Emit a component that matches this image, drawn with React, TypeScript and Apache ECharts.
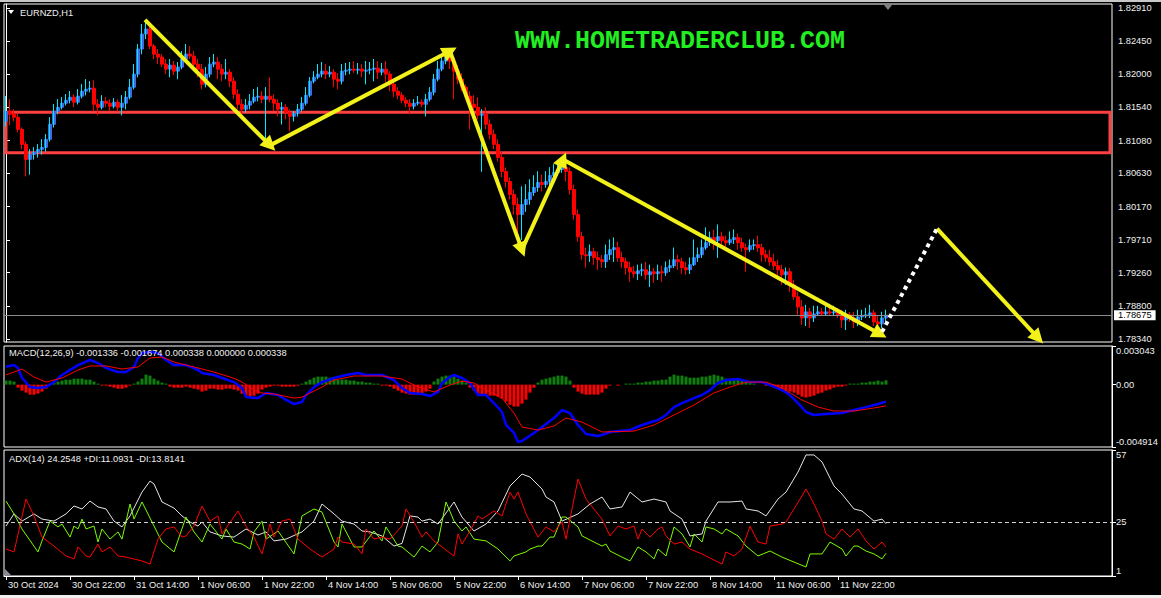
import { useEffect, useRef } from "react";
import * as echarts from "echarts";

const FONT = '"Liberation Sans", Arial, sans-serif';
const FS = 9.3;

// ---------- price data (EURNZD H1) ----------
const firstOpen = 1.81348;
const closes = [
1.81486,1.81445,1.81403,1.81237,1.81030,1.80822,1.80891,1.80919,1.80961,1.80988,
1.81099,1.81306,1.81486,1.81541,1.81597,1.81638,1.81680,1.81611,1.81694,1.81763,
1.81790,1.81804,1.81583,1.81541,1.81624,1.81597,1.81555,1.81611,1.81541,1.81597,
1.81680,1.81818,1.81998,1.82344,1.82551,1.82620,1.82385,1.82274,1.82233,1.82136,
1.82067,1.82122,1.82039,1.82095,1.82205,1.82274,1.82247,1.82136,1.82067,1.81859,
1.81998,1.82136,1.82164,1.82067,1.81998,1.82025,1.81901,1.81721,1.81583,1.81514,
1.81569,1.81624,1.81680,1.81694,1.81652,1.81694,1.81652,1.81597,1.81514,1.81541,
1.81472,1.81417,1.81458,1.81514,1.81597,1.81707,1.81901,1.81956,1.81998,1.82039,
1.81998,1.82025,1.81929,1.81901,1.82039,1.82053,1.82067,1.82053,1.82067,1.82039,
1.82053,1.82067,1.82081,1.82025,1.82067,1.81998,1.81859,1.81763,1.81707,1.81638,
1.81597,1.81555,1.81597,1.81611,1.81583,1.81652,1.81749,1.81929,1.82067,1.82178,
1.82247,1.82178,1.82039,1.81929,1.81818,1.81694,1.81583,1.81541,1.81431,1.81445,
1.81306,1.81168,1.81030,1.80850,1.80656,1.80518,1.80338,1.80200,1.80062,1.80200,
1.80269,1.80366,1.80435,1.80504,1.80476,1.80518,1.80601,1.80642,1.80684,1.80712,
1.80656,1.80407,1.80062,1.79757,1.79508,1.79495,1.79550,1.79467,1.79439,1.79412,
1.79508,1.79578,1.79605,1.79467,1.79412,1.79329,1.79273,1.79246,1.79287,1.79301,
1.79232,1.79273,1.79246,1.79273,1.79259,1.79329,1.79356,1.79439,1.79412,1.79329,
1.79301,1.79370,1.79467,1.79508,1.79605,1.79674,1.79744,1.79702,1.79757,1.79702,
1.79674,1.79716,1.79744,1.79674,1.79605,1.79578,1.79633,1.79647,1.79605,1.79508,
1.79467,1.79412,1.79356,1.79301,1.79232,1.79273,1.79093,1.78928,1.78789,1.78637,
1.78720,1.78637,1.78692,1.78720,1.78692,1.78720,1.78706,1.78720,1.78679,1.78609,
1.78679,1.78637,1.78582,1.78651,1.78665,1.78679,1.78706,1.78582,1.78554,1.78637,
1.78675
];
const highs = [
1.81694,1.81652,1.81514,1.81458,1.81265,1.81071,1.80961,1.80988,1.81030,1.81099,
1.81168,1.81403,1.81583,1.81652,1.81680,1.81721,1.81763,1.81721,1.81790,1.81859,
1.81929,1.81901,1.81915,1.81652,1.81707,1.81680,1.81652,1.81666,1.81652,1.81707,
1.81763,1.81929,1.82136,1.82413,1.82689,1.82717,1.82648,1.82413,1.82344,1.82274,
1.82205,1.82205,1.82178,1.82164,1.82316,1.82413,1.82385,1.82316,1.82205,1.82136,
1.82095,1.82233,1.82274,1.82233,1.82136,1.82205,1.82067,1.81956,1.81790,1.81652,
1.81652,1.81721,1.81790,1.81818,1.81763,1.81818,1.81956,1.81721,1.81652,1.81611,
1.81583,1.81514,1.81486,1.81583,1.81680,1.81818,1.81956,1.82039,1.82136,1.82164,
1.82136,1.82108,1.82067,1.82012,1.82136,1.82150,1.82164,1.82178,1.82150,1.82136,
1.82178,1.82164,1.82205,1.82178,1.82150,1.82178,1.82039,1.81929,1.81818,1.81749,
1.81680,1.81652,1.81652,1.81694,1.81652,1.81721,1.81818,1.81998,1.82178,1.82274,
1.82316,1.82302,1.82233,1.82122,1.82012,1.81859,1.81763,1.81707,1.81680,1.81514,
1.81541,1.81375,1.81237,1.81099,1.80933,1.80712,1.80573,1.80407,1.80297,1.80449,
1.80476,1.80546,1.80601,1.80656,1.80615,1.80656,1.80712,1.80753,1.80781,1.80822,
1.80795,1.80712,1.80476,1.80131,1.79826,1.79605,1.79647,1.79605,1.79550,1.79508,
1.79647,1.79716,1.79744,1.79688,1.79550,1.79467,1.79412,1.79356,1.79370,1.79384,
1.79412,1.79370,1.79329,1.79370,1.79356,1.79412,1.79439,1.79605,1.79508,1.79467,
1.79412,1.79467,1.79716,1.79605,1.79716,1.79882,1.79826,1.79854,1.79923,1.79826,
1.79771,1.79826,1.79854,1.79799,1.79744,1.79661,1.79716,1.79716,1.79771,1.79661,
1.79578,1.79578,1.79522,1.79439,1.79370,1.79329,1.79329,1.79163,1.78997,1.78886,
1.78817,1.78775,1.78803,1.78803,1.78775,1.78817,1.78831,1.78803,1.78775,1.78748,
1.78748,1.78720,1.78720,1.78748,1.78748,1.78775,1.78817,1.78748,1.78679,1.78720,
1.78748
];
const lows = [
1.81279,1.81292,1.81348,1.81196,1.80961,1.80587,1.80615,1.80822,1.80850,1.80891,
1.80933,1.81071,1.81265,1.81445,1.81514,1.81569,1.81597,1.81541,1.81583,1.81666,
1.81707,1.81749,1.81486,1.81431,1.81514,1.81541,1.81486,1.81528,1.81486,1.81431,
1.81514,1.81652,1.81790,1.81956,1.82274,1.82482,1.82344,1.82205,1.82136,1.82095,
1.81998,1.81956,1.81984,1.81929,1.82067,1.82178,1.82205,1.82067,1.81956,1.81790,
1.81818,1.81956,1.82095,1.81929,1.81901,1.81929,1.81818,1.81652,1.81514,1.81403,
1.81472,1.81514,1.81597,1.81624,1.81597,1.81002,1.81611,1.81486,1.81417,1.81306,
1.81375,1.81209,1.81348,1.81417,1.81486,1.81569,1.81680,1.81873,1.81929,1.81956,
1.81929,1.81956,1.81818,1.81790,1.81859,1.81984,1.81998,1.82012,1.81998,1.81956,
1.81859,1.81998,1.81901,1.81929,1.81984,1.81887,1.81763,1.81680,1.81652,1.81597,
1.81541,1.81445,1.81514,1.81569,1.81541,1.81417,1.81624,1.81707,1.81901,1.82039,
1.82136,1.82067,1.81652,1.81859,1.81763,1.81652,1.81237,1.81486,1.81375,1.80656,
1.81237,1.81099,1.80961,1.80795,1.80573,1.80435,1.80269,1.80062,1.79647,1.79716,
1.80103,1.80200,1.80324,1.80380,1.80380,1.80435,1.80407,1.80546,1.80601,1.80642,
1.80518,1.80338,1.79992,1.79688,1.79439,1.79329,1.79412,1.79370,1.79301,1.79329,
1.79329,1.79439,1.79412,1.79412,1.79329,1.79232,1.79135,1.79190,1.79163,1.79218,
1.79163,1.79066,1.79121,1.79163,1.79135,1.79218,1.79273,1.79329,1.79301,1.79246,
1.79232,1.79246,1.79356,1.79412,1.79467,1.79578,1.79633,1.79578,1.79467,1.79647,
1.79619,1.79647,1.79661,1.79578,1.79550,1.79273,1.79550,1.79578,1.79550,1.79412,
1.79412,1.79356,1.79301,1.79190,1.79093,1.79093,1.78997,1.78886,1.78679,1.78540,
1.78526,1.78499,1.78582,1.78665,1.78665,1.78679,1.78665,1.78665,1.78637,1.78499,
1.78471,1.78582,1.78499,1.78526,1.78609,1.78637,1.78637,1.78526,1.78499,1.78499,
1.78582
];
const futureBars = 56;

const tickLabels = [
  "30 Oct 2024", "30 Oct 22:00", "31 Oct 14:00", "1 Nov 06:00", "1 Nov 22:00",
  "4 Nov 14:00", "5 Nov 06:00", "5 Nov 22:00", "6 Nov 14:00", "7 Nov 06:00",
  "7 Nov 22:00", "8 Nov 14:00", "11 Nov 06:00", "11 Nov 22:00",
];
const priceTicks = [1.8291, 1.8245, 1.82, 1.8154, 1.8108, 1.8063, 1.8017, 1.7971, 1.7926, 1.788, 1.7834];
const priceMin = 1.78305;
const priceMax = 1.82965;
const lastPrice = 1.78675;
const zoneTop = 1.81472;
const zoneBottom = 1.80915;

// hand-drawn annotations: [bar index, price]
const zigzag = [[34.75, 1.82745], [66, 1.81016], [111, 1.82316], [129, 1.79578], [139.25, 1.80822], [218.5, 1.78416]];
const projectionDotted = [[219, 1.78444], [232.75, 1.79868]];
const projectionArrow = [[232.75, 1.79868], [258, 1.78361]];

// ---------- MACD(12,26,9) ----------
const macdAxis = [0.003043, 0, -0.004914];
const macdAxisLabels = ["0.003043", "0.00", "-0.004914"];
const macdHist = [
0.00032,0.00032,0.00024,
-0.00024,-0.00047,-0.00063,-0.00079,-0.00079,-0.00071,-0.00055,-0.00032,
0.00008,0.00016,0.00024,0.00032,0.00039,0.00039,0.00047,0.00047,0.00047,0.00039,0.00039,0.00024,0.00008,
-0.00008,-0.00008,-0.00016,-0.00024,-0.00032,-0.00032,-0.00024,-0.00008,
0.00008,0.00024,0.00047,0.00079,0.00071,0.00047,0.00032,0.00016,0.00008,
-0.00016,-0.00024,-0.00024,-0.00024,-0.00016,-0.00024,-0.00032,-0.00039,-0.00055,-0.00047,-0.00032,-0.00032,-0.00039,-0.00039,-0.00032,-0.00032,-0.00039,
-0.00047,-0.00071,-0.00087,-0.00095,-0.00087,-0.00071,
-0.00039,-0.00024,-0.00016,-0.00008,-0.00008,-0.00016,-0.00016,-0.00016,-0.00016,-0.00008,
0.00008,0.00024,0.00039,0.00055,0.00063,0.00063,0.00063,0.00055,0.00047,0.00039,0.00039,0.00039,0.00032,0.00032,0.00024,0.00024,0.00016,0.00016,0.00008,0.00008,
-0.00008,-0.00008,-0.00016,-0.00032,-0.00047,-0.00063,-0.00071,-0.00079,-0.00079,-0.00079,-0.00071,-0.00055,-0.00032,
0.00024,0.00047,0.00063,0.00071,0.00071,0.00063,0.00047,0.00032,0.00016,
-0.00024,-0.00047,-0.00071,-0.00079,-0.00079,-0.00087,-0.00087,-0.00095,-0.00110,-0.00134,-0.00158,-0.00173,-0.00173,-0.00150,-0.00118,-0.00063,-0.00024,
0.00016,0.00039,0.00047,0.00055,0.00063,0.00071,0.00071,0.00063,0.00032,
-0.00024,-0.00055,-0.00071,-0.00079,-0.00079,-0.00079,-0.00079,-0.00063,-0.00032,
-0.00008,0,-0.00008,0,0.00008,0.00008,
0.00008,0.00016,0.00016,0.00024,0.00024,0.00032,0.00032,0.00039,0.00039,0.00063,0.00079,0.00071,0.00071,0.00063,0.00055,0.00055,0.00055,0.00063,0.00063,0.00071,0.00079,0.00071,0.00063,0.00047,0.00047,0.00039,0.00039,0.00032,0.00024,0.00016,
0.00008,0,0,-0.00008,-0.00008,
-0.00024,-0.00032,-0.00039,-0.00047,-0.00055,-0.00063,-0.00079,-0.00095,-0.00102,-0.00095,-0.00087,-0.00071,-0.00063,-0.00047,-0.00039,-0.00024,-0.00016,-0.00016,-0.00008,
0.00008,0.00008,0.00008,0.00016,0.00016,0.00024,0.00024,0.00032,0.00024,0.000338
];
const macdLine = [[0,0.00141],[2,0.00154],[3,0.00131],[4,0.00052],[6,-0.00019],[8,-0.00027],[10,-0.00019],[12,0.0002],[14,0.00076],[18,0.00154],[21,0.00194],[23,0.0017],[25,0.00131],[28,0.00099],[30,0.00099],[32,0.00139],[33,0.0021],[34,0.00249],[36,0.00257],[38,0.00249],[40,0.00194],[42,0.00154],[45,0.00154],[48,0.00115],[49,0.00091],[52,0.00076],[54,0.00052],[57,0.0002],[59,-0.00027],[60,-0.00098],[63,-0.00106],[65,-0.00066],[68,-0.00082],[70,-0.00121],[72,-0.00153],[74,-0.00137],[75,-0.00082],[77,-0.00019],[79,0.0002],[82,0.00052],[85,0.00076],[88,0.00091],[90,0.00076],[94,0.00076],[97,0.00036],[99,-0.00027],[101,-0.00066],[104,-0.00074],[106,-0.0009],[108,-0.00058],[109,0.00013],[111,0.0006],[112,0.00076],[114,0.00052],[116,0.00013],[118,-0.00082],[120,-0.00082],[122,-0.00145],[124,-0.00216],[125,-0.00318],[127,-0.00381],[128,-0.00452],[129,-0.00444],[132,-0.00381],[134,-0.00334],[137,-0.00263],[139,-0.002],[141,-0.00224],[143,-0.00318],[145,-0.00389],[148,-0.00405],[149,-0.00397],[151,-0.00373],[156,-0.00358],[159,-0.00318],[163,-0.00279],[165,-0.00239],[167,-0.00177],[169,-0.00145],[172,-0.00106],[174,-0.00082],[176,-0.00043],[178,0.00013],[180,0.00036],[183,0.00044],[186,0.0002],[189,0.0002],[191,-0.00003],[194,-0.00043],[196,-0.00082],[198,-0.00145],[200,-0.00216],[202,-0.00239],[205,-0.00232],[209,-0.00224],[212,-0.002],[215,-0.00177],[218,-0.00153],[220,-0.001336]];
const signalLine = [[0,0.00076],[4,0.00123],[7,0.0006],[10,0.0002],[14,0.00052],[18,0.00115],[21,0.00147],[25,0.00147],[29,0.00123],[33,0.00139],[36,0.0021],[39,0.00217],[42,0.00178],[47,0.00139],[52,0.00099],[57,0.0005],[59,0.0002],[60,0],[62,-0.0004],[64,-0.00066],[67,-0.00074],[72,-0.00106],[74,-0.00098],[79,-0.00019],[82,0.00036],[87,0.00068],[94,0.00068],[99,0.00044],[103,-0.00019],[107,-0.00058],[111,-0.00003],[114,0.00028],[117,0.00013],[120,-0.00043],[124,-0.00106],[127,-0.00224],[129,-0.00334],[133,-0.00358],[137,-0.00326],[140,-0.00263],[144,-0.00295],[149,-0.00373],[157,-0.00366],[162,-0.00318],[167,-0.00239],[172,-0.00161],[177,-0.00066],[181,-0.00019],[185,0.0002],[190,0.0002],[194,-0.00027],[199,-0.00121],[203,-0.00177],[207,-0.00208],[212,-0.00208],[217,-0.00184],[220,-0.001674]];

// ---------- ADX(14) ----------
const adxAxis = [57, 25, 1];
const adxLevel = 25;
const adxLine = [[0,23.2],[2,28.6],[4,25.4],[7,28.6],[9,26.3],[12,25.4],[15,28.6],[17,32.1],[19,30.8],[21,34.3],[23,31.7],[25,30.8],[27,25.4],[29,22.8],[31,27.7],[34,38.3],[36,43.2],[37,41.9],[39,33.9],[42,31.2],[44,27.7],[46,25],[48,23.2],[49,25],[51,20.6],[54,18.8],[57,18.3],[60,21.9],[63,19.2],[65,20.6],[67,16.6],[70,17.4],[74,20.6],[77,25.4],[79,33],[82,28.6],[84,25.4],[87,24.1],[89,21],[91,20.6],[94,18.8],[97,14.3],[99,15.5],[101,27.7],[103,27.2],[104,25.4],[106,26.3],[108,24.1],[112,33.9],[114,27.2],[117,21],[120,24.1],[123,29.9],[126,41],[129,46.3],[131,45],[134,39.7],[135,36.1],[137,33.9],[139,25.4],[143,28.6],[146,33],[149,36.1],[151,30.8],[154,31.7],[156,38.3],[159,33.9],[162,35.2],[165,33.9],[166,29.9],[169,26.3],[171,18.8],[174,19.7],[175,25.4],[178,33.9],[181,33.9],[184,34.3],[185,30.8],[188,29.9],[190,27.7],[193,35.2],[195,38.3],[198,47.2],[200,54.8],[202,54.8],[204,51.7],[207,41],[209,37.4],[212,30.8],[214,29.9],[217,25.4],[219,26.3],[220,24.2548]];
const plusDI = [[0,34.3],[2,28.6],[4,21.9],[8,11.7],[9,16.6],[11,25.4],[13,22.8],[14,24.1],[16,18.3],[17,23.2],[18,21.9],[19,26.3],[20,21.9],[22,23.2],[23,16.1],[24,21.9],[26,17.4],[28,20.6],[29,17.4],[31,33],[32,26.3],[34,33.9],[37,23.2],[39,16.1],[42,11.7],[45,27.2],[47,20.6],[49,16.1],[51,24.1],[54,17.4],[55,21.9],[57,16.1],[59,15.2],[61,13],[62,20.6],[64,25.4],[65,17.4],[68,21],[72,10.8],[74,27.7],[77,30.8],[79,29.4],[82,16.1],[83,13.9],[84,24.1],[87,13.9],[89,13.9],[92,21],[94,16.6],[95,22.8],[98,14.3],[99,13.9],[102,9.4],[104,14.3],[106,11.7],[108,16.1],[110,33.9],[112,25.4],[114,21],[115,22.8],[117,17.4],[120,16.6],[123,13],[126,7.7],[127,9.9],[130,11.7],[131,13],[133,14.3],[134,14.3],[136,18.3],[137,18.3],[139,27.2],[140,27.2],[143,22.8],[144,18.8],[147,16.1],[149,14.3],[150,15.2],[151,12.1],[154,9.4],[156,7.7],[158,13.9],[160,11.7],[162,8.6],[163,13],[165,9.9],[167,22.8],[169,19.7],[171,13.9],[172,19.7],[174,16.1],[175,22.8],[177,21.9],[179,19.7],[180,21.9],[183,18.8],[185,14.3],[188,9.9],[191,12.1],[194,9.4],[197,7.2],[200,5],[201,10.8],[204,10.8],[206,16.1],[209,13],[210,9.9],[212,14.3],[213,14.3],[215,12.1],[217,10.8],[219,8.6],[220,11.0931]];
const minusDI = [[0,13],[2,11.7],[5,35.2],[7,27.7],[9,18.3],[12,14.3],[15,9.9],[17,8.6],[18,13.9],[20,9.9],[21,9.4],[23,15.2],[24,11.7],[26,13.9],[28,9.9],[30,9.4],[34,7.7],[36,6.3],[38,17.4],[40,21.9],[42,22.8],[44,18.3],[45,18.8],[47,23.2],[49,32.1],[51,25.4],[53,27.7],[54,19.7],[58,29.9],[60,23.2],[62,18.3],[64,10.8],[66,24.1],[67,18.3],[69,25.4],[71,26.3],[73,17.4],[76,13],[79,9.4],[82,13],[83,18.3],[84,16.1],[87,15.2],[89,10.8],[90,21.9],[92,17.4],[94,18.3],[96,17.4],[99,23.2],[100,30.8],[102,25],[104,18.3],[105,20.6],[107,16.6],[109,13.9],[112,9.9],[113,19.7],[114,15.2],[116,21],[118,27.7],[119,26.3],[122,29.9],[124,27.7],[126,38.3],[127,35.2],[128,38.3],[130,28.6],[133,18.3],[135,22.8],[137,20.6],[139,25],[140,17.4],[143,44.1],[145,35.2],[149,26.3],[151,18.8],[153,23.2],[155,21.9],[157,23.2],[158,17.4],[159,21.9],[161,18.3],[163,21.9],[164,22.8],[165,18.8],[167,15.2],[169,16.1],[171,13],[174,10.8],[179,6.3],[180,11.7],[182,9.9],[184,13],[186,23.2],[188,16.1],[190,15.2],[191,23.2],[194,24.1],[195,25],[197,30.8],[199,36.6],[200,39.7],[202,33],[204,25.4],[205,19.7],[207,17.4],[209,21.9],[211,18.3],[213,21.9],[215,16.6],[217,13],[219,16.1],[220,13.8141]];

export default function App() {
  const ref = useRef<HTMLDivElement>(null);

  useEffect(() => {
    const el = ref.current!;
    const chart = echarts.init(el, null, { renderer: "svg" });
    const total = closes.length + futureBars;
    const cats = Array.from({ length: total }, (_, i) => String(i));
    const opens = closes.map((_, i) => (i === 0 ? firstOpen : closes[i - 1]));
    const candles = closes.map((c, i) => [opens[i], c, lows[i], highs[i]]);
    // bodies only (no wicks): the wide blue/red blocks
    const bodies = closes.map((c, i) => [opens[i], c, Math.min(opens[i], c), Math.max(opens[i], c)]);
    // bullish bars drawn as thin cyan candles on top
    const bullThin = closes.map((c, i) => (c > opens[i] ? candles[i] : "-"));
    const showTick = (i: number) => i % 16 === 0 && i < closes.length;

    const gridBase = { left: 4, width: 1108, show: true, borderColor: "#ffffff", borderWidth: 1, backgroundColor: "transparent" };
    const textStyle = { color: "#f0f0f0", fontSize: FS, fontFamily: FONT };

    const pairs = (pts: number[][]) =>
      pts.slice(0, -1).map((p, k) => ({ coords: [p, pts[k + 1]] }));

    const edgeRich = {
      t: { padding: [10, 0, 0, 0], color: "#f0f0f0", fontSize: FS, fontFamily: FONT },
      b: { padding: [0, 0, 10, 0], color: "#f0f0f0", fontSize: FS, fontFamily: FONT },
      m: { color: "#f0f0f0", fontSize: FS, fontFamily: FONT },
    };
    const edgeFormatter = (vals: number[], labels: string[]) => (v: number) => {
      let k = 0;
      for (let j = 0; j < vals.length; j++) if (Math.abs(vals[j] - v) < 1e-9) k = j;
      const tag = k === 0 ? "t" : k === vals.length - 1 ? "b" : "m";
      return `{${tag}|${labels[k]}}`;
    };

    const option: any = {
      animation: false,
      backgroundColor: "#000000",
      textStyle: { fontFamily: FONT },
      grid: [
        { ...gridBase, top: 4, height: 338 },
        { ...gridBase, top: 346, height: 101 },
        { ...gridBase, top: 450, height: 126 },
      ],
      xAxis: [
        { type: "category", gridIndex: 0, data: cats, show: false },
        { type: "category", gridIndex: 1, data: cats, show: false },
        {
          type: "category", gridIndex: 2, data: cats,
          axisLine: { show: true, lineStyle: { color: "#ffffff" } },
          axisTick: { show: true, interval: (i: number) => showTick(i), alignWithLabel: true, length: 4, lineStyle: { color: "#ffffff" } },
          axisLabel: {
            interval: (i: number) => showTick(i),
            formatter: (_v: string, i: number) => (showTick(i) ? tickLabels[i / 16] : ""),
            align: "left", margin: 4, padding: [0, 0, 0, 2], ...textStyle,
          },
        },
        { type: "value", gridIndex: 0, min: -0.5, max: total - 0.5, show: false },
      ],
      yAxis: [
        {
          type: "value", gridIndex: 0, position: "right", min: priceMin, max: priceMax,
          splitLine: { show: false },
          axisLine: { show: true, lineStyle: { color: "#ffffff" } },
          axisTick: { show: true, customValues: priceTicks, length: 4, lineStyle: { color: "#ffffff" } },
          axisLabel: { customValues: priceTicks, formatter: (v: number) => v.toFixed(5), margin: 6, ...textStyle },
        },
        {
          type: "value", gridIndex: 1, position: "right", min: macdAxis[2], max: macdAxis[0],
          splitLine: { show: false },
          axisLine: { show: true, lineStyle: { color: "#ffffff" } },
          axisTick: { show: true, customValues: macdAxis, length: 4, lineStyle: { color: "#ffffff" } },
          axisLabel: { customValues: macdAxis, formatter: edgeFormatter(macdAxis, macdAxisLabels), rich: edgeRich, margin: 4, ...textStyle },
        },
        {
          type: "value", gridIndex: 2, position: "right", min: adxAxis[2], max: adxAxis[0],
          splitLine: { show: false },
          axisLine: { show: true, lineStyle: { color: "#ffffff" } },
          axisTick: { show: true, customValues: adxAxis, length: 4, lineStyle: { color: "#ffffff" } },
          axisLabel: { customValues: adxAxis, formatter: edgeFormatter(adxAxis, adxAxis.map(String)), rich: edgeRich, margin: 4, ...textStyle },
        },
      ],
      series: [
        // zone rectangle + last-price line (carried by an invisible close line)
        {
          type: "line", xAxisIndex: 0, yAxisIndex: 0, data: closes, showSymbol: false, silent: true,
          lineStyle: { opacity: 0 }, z: 1,
          markLine: {
            silent: true, symbol: "none", precision: 5,
            data: [{ yAxis: lastPrice }],
            lineStyle: { color: "#8c8c8c", width: 1, type: "solid" },
            label: {
              show: true, position: "end", distance: 2, formatter: lastPrice.toFixed(5),
              backgroundColor: "#ffffff", color: "#000000", padding: [1, 4, 0, 4], fontSize: FS, fontFamily: FONT,
            },
          },
          markArea: {
            silent: true,
            itemStyle: { color: "rgba(0,0,0,0)", borderColor: "#ff4040", borderWidth: 3 },
            data: [[{ xAxis: 0, yAxis: zoneTop }, { xAxis: total - 1, yAxis: zoneBottom }]],
          },
        },
        {
          type: "candlestick", xAxisIndex: 0, yAxisIndex: 0, data: candles, barWidth: 1,
          itemStyle: { color: "#00e8ff", color0: "#ff0000", borderColor: "#00e8ff", borderColor0: "#ff0000", borderWidth: 1 },
          z: 2,
        },
        {
          type: "candlestick", xAxisIndex: 0, yAxisIndex: 0, data: bodies, barWidth: 4,
          itemStyle: { color: "#4169e1", color0: "#ff0000", borderColor: "#4169e1", borderColor0: "#ff0000", borderWidth: 1 },
          z: 3,
        },
        {
          type: "candlestick", xAxisIndex: 0, yAxisIndex: 0, data: bullThin, barWidth: 1,
          itemStyle: { color: "#00e8ff", color0: "#ff0000", borderColor: "#00e8ff", borderColor0: "#ff0000", borderWidth: 1 },
          z: 4,
        },
        {
          type: "lines", coordinateSystem: "cartesian2d", xAxisIndex: 3, yAxisIndex: 0,
          data: [...pairs(zigzag), ...pairs(projectionArrow)],
          symbol: ["none", "triangle"], symbolSize: 15,
          lineStyle: { color: "#f2f21a", width: 4, opacity: 1, curveness: 0 },
          z: 5,
        },
        {
          type: "lines", coordinateSystem: "cartesian2d", xAxisIndex: 3, yAxisIndex: 0,
          data: pairs(projectionDotted), symbol: "none",
          lineStyle: { color: "#ffffff", width: 4, type: [4, 4], opacity: 1, curveness: 0 },
          z: 5,
        },
        {
          type: "bar", xAxisIndex: 1, yAxisIndex: 1, data: macdHist, barWidth: 3,
          itemStyle: { color: (p: any) => (p.value >= 0 ? "#0e7f0e" : "#ff0000") },
        },
        { type: "line", xAxisIndex: 1, yAxisIndex: 1, data: macdLine, showSymbol: false, lineStyle: { color: "#0000ff", width: 2.5 }, z: 4 },
        { type: "line", xAxisIndex: 1, yAxisIndex: 1, data: signalLine, showSymbol: false, lineStyle: { color: "#ff0000", width: 1 }, z: 4 },
        {
          type: "line", xAxisIndex: 2, yAxisIndex: 2, data: adxLine, showSymbol: false, lineStyle: { color: "#e6e6e6", width: 1 },
          markLine: {
            silent: true, symbol: "none", data: [{ yAxis: adxLevel }],
            lineStyle: { color: "#d0d0d0", width: 1, type: [4, 3] }, label: { show: false },
          },
        },
        { type: "line", xAxisIndex: 2, yAxisIndex: 2, data: plusDI, showSymbol: false, lineStyle: { color: "#7cfc00", width: 1 } },
        { type: "line", xAxisIndex: 2, yAxisIndex: 2, data: minusDI, showSymbol: false, lineStyle: { color: "#ff0000", width: 1 } },
      ],
      graphic: [
        { type: "rect", shape: { x: 0, y: 0, width: 1161, height: 2 }, style: { fill: "#c8c8c8" }, silent: true },
        { type: "rect", shape: { x: 0, y: 595, width: 1161, height: 3 }, style: { fill: "#f0f0f0" }, silent: true },
        { type: "polygon", shape: { points: [[8, 10], [14, 10], [11, 14]] }, style: { fill: "#ffffff" }, silent: true },
        { type: "text", x: 20, y: 12.5, style: { text: "EURNZD,H1", fill: "#f0f0f0", font: `${FS}px ${FONT}`, verticalAlign: "middle" }, silent: true },
        { type: "polygon", shape: { points: [[884, 5], [892, 5], [888, 10]] }, style: { fill: "#808080" }, silent: true },
        { type: "text", x: 515, y: 41.5, style: { text: "WWW.HOMETRADERCLUB.COM", fill: "#22ee22", font: `bold 25px "Liberation Mono", monospace`, verticalAlign: "middle" }, silent: true },
        { type: "text", x: 9, y: 353, style: { text: "MACD(12,26,9) -0.001336 -0.001674 0.000338 0.000000 0.000338", fill: "#f0f0f0", font: `${FS}px ${FONT}`, verticalAlign: "middle" }, silent: true, z: 10 },
        { type: "text", x: 9, y: 458.5, style: { text: "ADX(14) 24.2548 +DI:11.0931 -DI:13.8141", fill: "#f0f0f0", font: `${FS}px ${FONT}`, verticalAlign: "middle" }, silent: true, z: 10 },
        { type: "polygon", shape: { points: [[5, 575], [5, 569], [11, 575]] }, style: { fill: "#8a8a9a" }, silent: true },
      ],
    };

    chart.setOption(option);
    return () => chart.dispose();
  }, []);

  return (
    <div
      ref={ref}
      style={{ position: "fixed", left: 0, top: 0, width: 1161, height: 598, background: "#000" }}
    />
  );
}
